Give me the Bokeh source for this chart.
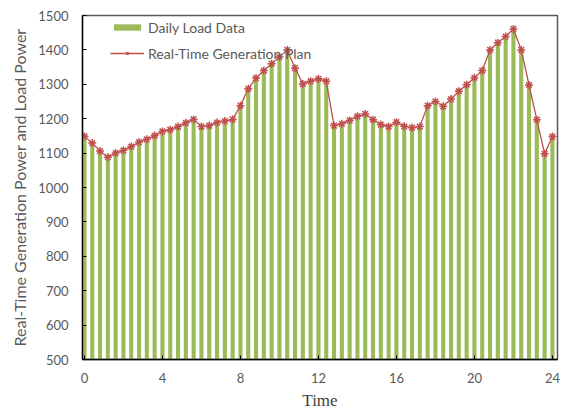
from bokeh.plotting import figure
from bokeh.models import Range1d, FixedTicker, Legend, LegendItem, ColumnDataSource
from bokeh.embed import file_html
from bokeh.resources import INLINE

time = [0.0, 0.4, 0.8, 1.2, 1.6, 2.0, 2.4, 2.8, 3.2, 3.6,
        4.0, 4.4, 4.8, 5.2, 5.6, 6.0, 6.4, 6.8, 7.2, 7.6,
        8.0, 8.4, 8.8, 9.2, 9.6, 10.0, 10.4, 10.8, 11.2, 11.6,
        12.0, 12.4, 12.8, 13.2, 13.6, 14.0, 14.4, 14.8, 15.2, 15.6,
        16.0, 16.4, 16.8, 17.2, 17.6, 18.0, 18.4, 18.8, 19.2, 19.6,
        20.0, 20.4, 20.8, 21.2, 21.6, 22.0, 22.4, 22.8, 23.2, 23.6, 24.0]

plan = [1149, 1129, 1106, 1088, 1100, 1108, 1119, 1132, 1140, 1151,
        1163, 1168, 1177, 1188, 1198, 1177, 1180, 1189, 1193, 1198,
        1238, 1287, 1318, 1340, 1360, 1379, 1400, 1347, 1301, 1309,
        1316, 1309, 1180, 1185, 1195, 1207, 1214, 1197, 1183, 1177,
        1190, 1178, 1174, 1177, 1238, 1250, 1236, 1257, 1280, 1299,
        1319, 1340, 1400, 1421, 1439, 1461, 1400, 1298, 1197, 1098, 1148]

load = [1142, 1122, 1099, 1081, 1093, 1101, 1112, 1125, 1133, 1144,
        1156, 1161, 1170, 1181, 1191, 1170, 1173, 1182, 1186, 1191,
        1231, 1280, 1311, 1333, 1353, 1372, 1393, 1340, 1294, 1302,
        1309, 1302, 1173, 1178, 1188, 1200, 1207, 1190, 1176, 1170,
        1183, 1171, 1167, 1170, 1231, 1243, 1229, 1250, 1273, 1292,
        1312, 1333, 1393, 1414, 1432, 1454, 1393, 1291, 1190, 1091, 1141]

x_ticks = [0, 4, 8, 12, 16, 20, 24]
y_ticks = [500, 600, 700, 800, 900, 1000, 1100, 1200, 1300, 1400, 1500]

src = ColumnDataSource(dict(t=time, plan=plan, load=load))

W, H = 560, 412
LEFT, TOP, BOTTOM, RIGHT = 82, 15, 52, 3

p = figure(width=W, height=H, output_backend="svg", toolbar_location=None,
           x_range=Range1d(-0.1, 24.26), y_range=Range1d(500, 1500),
           min_border_left=LEFT, min_border_top=TOP, min_border_bottom=BOTTOM,
           min_border_right=RIGHT)

p.background_fill_color = "white"
p.border_fill_color = "white"
p.outline_line_color = "#595959"
p.outline_line_width = 1.5
p.xgrid.visible = False
p.ygrid.visible = False

bars = p.vbar(x="t", top="load", bottom=500, width=0.21, source=src,
              fill_color="#9BBB59", line_color=None)
ln = p.line(x="t", y="plan", source=src, line_color="#C0504D", line_width=1.3)
mk = p.scatter(x="t", y="plan", source=src, marker="asterisk", size=8,
               line_color="#C0504D", line_width=1.5)

for ax in (p.xaxis[0], p.yaxis[0]):
    ax.axis_line_color = "black"
    ax.axis_line_width = 1.3
    ax.major_tick_line_color = "black"
    ax.major_tick_in = 4
    ax.major_tick_out = 0
    ax.minor_tick_line_color = None
    ax.major_label_text_font = "Lato"
    ax.major_label_text_font_size = "13px"
    ax.major_label_text_color = "#595959"

p.xaxis.ticker = FixedTicker(ticks=x_ticks)
p.yaxis.ticker = FixedTicker(ticks=y_ticks)
p.xaxis.major_label_standoff = 13
p.yaxis.major_label_standoff = 14

p.xaxis.axis_label = "Time"
p.xaxis.axis_label_text_font = "Liberation Serif"
p.xaxis.axis_label_text_font_style = "normal"
p.xaxis.axis_label_text_font_size = "17px"
p.xaxis.axis_label_text_color = "#404040"
p.xaxis.axis_label_standoff = 5

p.yaxis.axis_label = "Real-Time Generation Power and Load Power"
p.yaxis.axis_label_text_font = "Lato"
p.yaxis.axis_label_text_font_style = "normal"
p.yaxis.axis_label_text_font_size = "16px"
p.yaxis.axis_label_text_color = "#595959"
p.yaxis.axis_label_standoff = 6

frame_h = H - TOP - BOTTOM
legend = Legend(items=[
    LegendItem(label="Daily Load Data", renderers=[bars]),
    LegendItem(label="Real-Time Generation Plan", renderers=[ln, mk]),
])
legend.background_fill_alpha = 0
legend.border_line_color = None
legend.glyph_width = 34
legend.glyph_height = 8
legend.label_height = 20
legend.label_text_font = "Lato"
legend.label_text_font_size = "14px"
legend.label_text_color = "#595959"
legend.spacing = 6
legend.label_standoff = 4
legend.padding = 0
legend.margin = 0
legend.location = (28, frame_h - 49)
p.add_layout(legend, "center")

open("out.html", "w").write(file_html(p, INLINE))
